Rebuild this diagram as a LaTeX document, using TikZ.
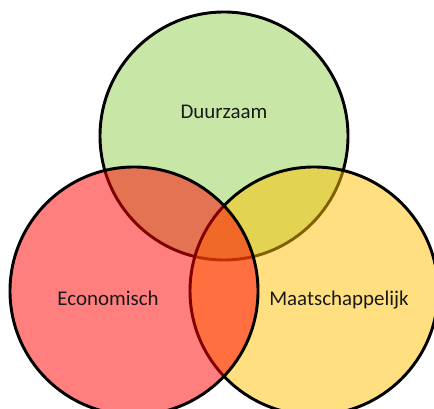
\documentclass[tikz,border=0pt]{standalone}
\usepackage{fontspec}
\setmainfont{Carlito}
\usepackage{tikz,xcolor}
\definecolor{groen}{HTML}{92D050}
\definecolor{rood}{HTML}{FF0000}
\definecolor{geel}{HTML}{FFC000}

\begin{document}
\begin{tikzpicture}[x=0.75pt, y=0.75pt,
    kring/.style={circle, draw=black, line width=2.2pt, minimum size=186pt, inner sep=0pt, fill opacity=0.5},
    tekst/.style={anchor=base, font=\fontsize{15.7}{19}\selectfont, text=black!90}]

    \useasboundingbox (0, 0) rectangle (434, 409);

    \node[kring, fill=groen] (g) at (224, 273) {};
    \node[kring, fill=geel] (y) at (314, 118) {};
    \node[kring, fill=rood] (r) at (134, 118) {};

    \node[tekst] (a) at (224, 290) {Duurzaam};
    \node[tekst] (b) at (108, 103) {Economisch};
    \node[tekst] (c) at (339, 103) {Maatschappelijk};

\end{tikzpicture}
\end{document}
